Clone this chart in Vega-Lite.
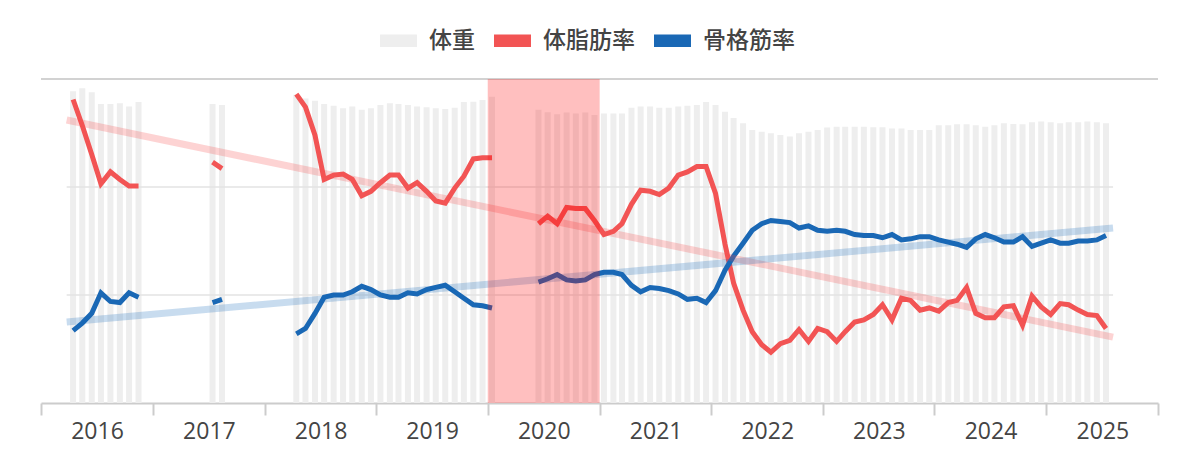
{
  "$schema": "https://vega.github.io/schema/vega-lite/v6.json",
  "width": 1117,
  "height": 324,
  "autosize": {"type": "none"},
  "padding": {"left": 41, "top": 79, "right": 42, "bottom": 68},
  "background": "white",
  "config": {"view": {"stroke": null}, "font": "Open Sans"},
  "datasets": {
    "monthly": [
      {"date": "2016-04-15", "seg": 1, "weight": 77.0, "fat": 38.1, "muscle": 16.7},
      {"date": "2016-05-15", "seg": 1, "weight": 77.7, "fat": 35.7, "muscle": 17.4},
      {"date": "2016-06-15", "seg": 1, "weight": 76.7, "fat": 33.0, "muscle": 18.3},
      {"date": "2016-07-15", "seg": 1, "weight": 73.8, "fat": 30.3, "muscle": 20.2},
      {"date": "2016-08-15", "seg": 1, "weight": 73.8, "fat": 31.4, "muscle": 19.4},
      {"date": "2016-09-15", "seg": 1, "weight": 74.0, "fat": 30.7, "muscle": 19.3},
      {"date": "2016-10-15", "seg": 1, "weight": 73.2, "fat": 30.1, "muscle": 20.2},
      {"date": "2016-11-15", "seg": 1, "weight": 74.3, "fat": 30.1, "muscle": 19.8},
      {"date": "2017-07-15", "seg": 2, "weight": 73.8, "fat": 32.3, "muscle": 19.3},
      {"date": "2017-08-15", "seg": 2, "weight": 73.6, "fat": 31.7, "muscle": 19.6},
      {"date": "2018-04-15", "seg": 3, "weight": 76.1, "fat": 38.6, "muscle": 16.4},
      {"date": "2018-05-15", "seg": 3, "weight": 75.2, "fat": 37.4, "muscle": 16.9},
      {"date": "2018-06-15", "seg": 3, "weight": 74.6, "fat": 34.8, "muscle": 18.3},
      {"date": "2018-07-15", "seg": 3, "weight": 73.8, "fat": 30.7, "muscle": 19.8},
      {"date": "2018-08-15", "seg": 3, "weight": 73.4, "fat": 31.1, "muscle": 20.0},
      {"date": "2018-09-15", "seg": 3, "weight": 72.8, "fat": 31.2, "muscle": 20.0},
      {"date": "2018-10-15", "seg": 3, "weight": 73.2, "fat": 30.7, "muscle": 20.3},
      {"date": "2018-11-15", "seg": 3, "weight": 72.4, "fat": 29.2, "muscle": 20.8},
      {"date": "2018-12-15", "seg": 3, "weight": 72.8, "fat": 29.6, "muscle": 20.5},
      {"date": "2019-01-15", "seg": 3, "weight": 73.6, "fat": 30.4, "muscle": 20.0},
      {"date": "2019-02-15", "seg": 3, "weight": 74.0, "fat": 31.1, "muscle": 19.8},
      {"date": "2019-03-15", "seg": 3, "weight": 73.8, "fat": 31.1, "muscle": 19.8},
      {"date": "2019-04-15", "seg": 3, "weight": 73.6, "fat": 29.9, "muscle": 20.2},
      {"date": "2019-05-15", "seg": 3, "weight": 73.2, "fat": 30.4, "muscle": 20.1},
      {"date": "2019-06-15", "seg": 3, "weight": 73.0, "fat": 29.6, "muscle": 20.5},
      {"date": "2019-07-15", "seg": 3, "weight": 72.8, "fat": 28.7, "muscle": 20.7},
      {"date": "2019-08-15", "seg": 3, "weight": 72.6, "fat": 28.5, "muscle": 20.9},
      {"date": "2019-09-15", "seg": 3, "weight": 72.9, "fat": 29.9, "muscle": 20.3},
      {"date": "2019-10-15", "seg": 3, "weight": 74.3, "fat": 31.0, "muscle": 19.7},
      {"date": "2019-11-15", "seg": 3, "weight": 74.4, "fat": 32.6, "muscle": 19.1},
      {"date": "2019-12-15", "seg": 3, "weight": 74.8, "fat": 32.7, "muscle": 19.0},
      {"date": "2020-01-15", "seg": 3, "weight": 75.6, "fat": 32.7, "muscle": 18.8},
      {"date": "2020-06-15", "seg": 4, "weight": 72.4, "fat": 26.6, "muscle": 21.2},
      {"date": "2020-07-15", "seg": 4, "weight": 71.8, "fat": 27.3, "muscle": 21.5},
      {"date": "2020-08-15", "seg": 4, "weight": 71.3, "fat": 26.6, "muscle": 21.9},
      {"date": "2020-09-15", "seg": 4, "weight": 71.7, "fat": 28.1, "muscle": 21.4},
      {"date": "2020-10-15", "seg": 4, "weight": 71.5, "fat": 28.0, "muscle": 21.3},
      {"date": "2020-11-15", "seg": 4, "weight": 71.7, "fat": 28.0, "muscle": 21.4},
      {"date": "2020-12-15", "seg": 4, "weight": 71.1, "fat": 26.9, "muscle": 21.9},
      {"date": "2021-01-15", "seg": 4, "weight": 71.5, "fat": 25.6, "muscle": 22.1},
      {"date": "2021-02-15", "seg": 4, "weight": 71.5, "fat": 25.9, "muscle": 22.1},
      {"date": "2021-03-15", "seg": 4, "weight": 71.5, "fat": 26.6, "muscle": 21.9},
      {"date": "2021-04-15", "seg": 4, "weight": 72.9, "fat": 28.4, "muscle": 20.9},
      {"date": "2021-05-15", "seg": 4, "weight": 73.2, "fat": 29.7, "muscle": 20.3},
      {"date": "2021-06-15", "seg": 4, "weight": 73.2, "fat": 29.6, "muscle": 20.7},
      {"date": "2021-07-15", "seg": 4, "weight": 72.9, "fat": 29.3, "muscle": 20.6},
      {"date": "2021-08-15", "seg": 4, "weight": 72.9, "fat": 29.9, "muscle": 20.4},
      {"date": "2021-09-15", "seg": 4, "weight": 73.2, "fat": 31.1, "muscle": 20.1},
      {"date": "2021-10-15", "seg": 4, "weight": 73.4, "fat": 31.4, "muscle": 19.6},
      {"date": "2021-11-15", "seg": 4, "weight": 73.6, "fat": 31.9, "muscle": 19.7},
      {"date": "2021-12-15", "seg": 4, "weight": 74.3, "fat": 31.9, "muscle": 19.3},
      {"date": "2022-01-15", "seg": 4, "weight": 73.6, "fat": 29.4, "muscle": 20.4},
      {"date": "2022-02-15", "seg": 4, "weight": 71.9, "fat": 24.7, "muscle": 22.3},
      {"date": "2022-03-15", "seg": 4, "weight": 70.4, "fat": 21.1, "muscle": 23.6},
      {"date": "2022-04-15", "seg": 4, "weight": 69.1, "fat": 18.6, "muscle": 24.8},
      {"date": "2022-05-15", "seg": 4, "weight": 67.4, "fat": 16.6, "muscle": 26.0},
      {"date": "2022-06-15", "seg": 4, "weight": 67.0, "fat": 15.4, "muscle": 26.6},
      {"date": "2022-07-15", "seg": 4, "weight": 66.6, "fat": 14.7, "muscle": 26.9},
      {"date": "2022-08-15", "seg": 4, "weight": 66.2, "fat": 15.5, "muscle": 26.8},
      {"date": "2022-09-15", "seg": 4, "weight": 65.8, "fat": 15.8, "muscle": 26.7},
      {"date": "2022-10-15", "seg": 4, "weight": 66.6, "fat": 16.8, "muscle": 26.2},
      {"date": "2022-11-15", "seg": 4, "weight": 67.0, "fat": 15.7, "muscle": 26.4},
      {"date": "2022-12-15", "seg": 4, "weight": 67.4, "fat": 16.9, "muscle": 26.0},
      {"date": "2023-01-15", "seg": 4, "weight": 68.0, "fat": 16.6, "muscle": 25.9},
      {"date": "2023-02-15", "seg": 4, "weight": 68.2, "fat": 15.7, "muscle": 26.0},
      {"date": "2023-03-15", "seg": 4, "weight": 68.2, "fat": 16.6, "muscle": 25.9},
      {"date": "2023-04-15", "seg": 4, "weight": 68.2, "fat": 17.5, "muscle": 25.6},
      {"date": "2023-05-15", "seg": 4, "weight": 68.2, "fat": 17.7, "muscle": 25.5},
      {"date": "2023-06-15", "seg": 4, "weight": 68.1, "fat": 18.2, "muscle": 25.5},
      {"date": "2023-07-15", "seg": 4, "weight": 68.1, "fat": 19.1, "muscle": 25.3},
      {"date": "2023-08-15", "seg": 4, "weight": 67.8, "fat": 17.7, "muscle": 25.6},
      {"date": "2023-09-15", "seg": 4, "weight": 67.8, "fat": 19.7, "muscle": 25.1},
      {"date": "2023-10-15", "seg": 4, "weight": 67.4, "fat": 19.5, "muscle": 25.2},
      {"date": "2023-11-15", "seg": 4, "weight": 67.4, "fat": 18.6, "muscle": 25.4},
      {"date": "2023-12-15", "seg": 4, "weight": 67.4, "fat": 18.8, "muscle": 25.4},
      {"date": "2024-01-15", "seg": 4, "weight": 68.6, "fat": 18.5, "muscle": 25.1},
      {"date": "2024-02-15", "seg": 4, "weight": 68.6, "fat": 19.3, "muscle": 24.9},
      {"date": "2024-03-15", "seg": 4, "weight": 68.8, "fat": 19.5, "muscle": 24.7},
      {"date": "2024-04-15", "seg": 4, "weight": 68.8, "fat": 20.7, "muscle": 24.4},
      {"date": "2024-05-15", "seg": 4, "weight": 68.6, "fat": 18.3, "muscle": 25.2},
      {"date": "2024-06-15", "seg": 4, "weight": 68.2, "fat": 17.9, "muscle": 25.6},
      {"date": "2024-07-15", "seg": 4, "weight": 68.6, "fat": 17.9, "muscle": 25.3},
      {"date": "2024-08-15", "seg": 4, "weight": 69.1, "fat": 18.9, "muscle": 24.9},
      {"date": "2024-09-15", "seg": 4, "weight": 68.9, "fat": 19.0, "muscle": 24.9},
      {"date": "2024-10-15", "seg": 4, "weight": 68.8, "fat": 17.2, "muscle": 25.4},
      {"date": "2024-11-15", "seg": 4, "weight": 69.3, "fat": 19.9, "muscle": 24.5},
      {"date": "2024-12-15", "seg": 4, "weight": 69.5, "fat": 18.9, "muscle": 24.8},
      {"date": "2025-01-15", "seg": 4, "weight": 69.3, "fat": 18.2, "muscle": 25.1},
      {"date": "2025-02-15", "seg": 4, "weight": 69.1, "fat": 19.2, "muscle": 24.8},
      {"date": "2025-03-15", "seg": 4, "weight": 69.3, "fat": 19.1, "muscle": 24.8},
      {"date": "2025-04-15", "seg": 4, "weight": 69.3, "fat": 18.6, "muscle": 25.0},
      {"date": "2025-05-15", "seg": 4, "weight": 69.5, "fat": 18.2, "muscle": 25.0},
      {"date": "2025-06-15", "seg": 4, "weight": 69.3, "fat": 18.1, "muscle": 25.1},
      {"date": "2025-07-15", "seg": 4, "weight": 69.1, "fat": 16.9, "muscle": 25.5}
    ],
    "trend": [
      {"series": "体脂肪率", "date": "2016-03-25", "value": 36.2},
      {"series": "体脂肪率", "date": "2025-08-07", "value": 16.1},
      {"series": "骨格筋率", "date": "2016-03-25", "value": 17.5},
      {"series": "骨格筋率", "date": "2025-08-07", "value": 26.2}
    ],
    "guides": [
      {"value": 20, "from": "2016-03-25", "to": "2025-08-07"},
      {"value": 30, "from": "2016-03-25", "to": "2025-08-07"}
    ],
    "period": [
      {"label": "2020", "start": "2020-01-01", "end": "2021-01-01"}
    ]
  },
  "layer": [
    {
      "data": {"name": "monthly"},
      "mark": {"type": "bar", "width": 6},
      "encoding": {
        "x": {
          "field": "date",
          "type": "temporal",
          "title": null,
          "scale": {
            "type": "utc",
            "padding": 0,
            "domain": [
              {"year": 2016, "month": 1, "date": 1, "utc": true},
              {"year": 2026, "month": 1, "date": 1, "utc": true}
            ]
          },
          "axis": {
            "values": [
              {"year": 2016, "utc": true}, {"year": 2017, "utc": true},
              {"year": 2018, "utc": true}, {"year": 2019, "utc": true},
              {"year": 2020, "utc": true}, {"year": 2021, "utc": true},
              {"year": 2022, "utc": true}, {"year": 2023, "utc": true},
              {"year": 2024, "utc": true}, {"year": 2025, "utc": true},
              {"year": 2026, "utc": true}
            ],
            "labelExpr": "utcyear(datum.value) > 2025 ? '' : utcFormat(datum.value, '%Y')",
            "labelOffset": 56,
            "labelFont": "Open Sans",
            "labelFontSize": 23,
            "labelColor": "#444444",
            "labelPadding": 5,
            "labelOverlap": false,
            "labelFlush": false,
            "labelBound": false,
            "tickSize": 12,
            "tickWidth": 2,
            "tickColor": "#cccccc",
            "domainColor": "#cccccc",
            "domainWidth": 2,
            "grid": false,
            "title": null
          }
        },
        "y": {
          "field": "weight",
          "type": "quantitative",
          "scale": {"domain": [0, 80], "nice": false},
          "axis": null
        },
        "color": {
          "datum": "体重",
          "scale": {
            "domain": ["体重", "体脂肪率", "骨格筋率"],
            "range": ["#eeeeee", "#f25454", "#1a68b5"]
          },
          "legend": {
            "title": null,
            "orient": "none",
            "legendX": 339,
            "legendY": -51,
            "direction": "horizontal",
            "symbolType": "M-1.5,-0.5H1.5V0.5H-1.5Z",
            "symbolSize": 608,
            "symbolOffset": 6,
            "symbolStrokeWidth": 0,
            "labelOffset": 18,
            "columnPadding": 19,
            "labelFont": "Noto Sans CJK JP",
            "labelFontSize": 23,
            "labelFontWeight": 500,
            "labelColor": "#444444",
            "encode": {
              "symbols": {
                "update": {
                  "fill": {"scale": "color", "field": "value"},
                  "stroke": {"value": "transparent"},
                  "opacity": {"value": 1}
                }
              }
            }
          }
        }
      }
    },
    {
      "layer": [
        {
          "data": {"name": "guides"},
          "mark": {"type": "rule", "color": "#e3e3e3", "strokeWidth": 1.5},
          "encoding": {
            "x": {"field": "from", "type": "temporal", "title": null, "scale": {"type": "utc"}},
            "x2": {"field": "to"},
            "y": {"field": "value", "type": "quantitative", "scale": {"domain": [10, 40], "nice": false}, "axis": null}
          }
        },
        {
          "data": {"name": "period"},
          "mark": {"type": "rule", "color": "#d2d2d2", "strokeWidth": 2},
          "encoding": {
            "y": {"datum": 40, "type": "quantitative", "scale": {"domain": [10, 40], "nice": false}, "axis": null}
          }
        },
        {
          "data": {"name": "monthly"},
          "mark": {"type": "line", "strokeWidth": 5, "color": "#f64f4f"},
          "encoding": {
            "x": {"field": "date", "type": "temporal", "title": null, "scale": {"type": "utc"}},
            "y": {"field": "fat", "type": "quantitative", "scale": {"domain": [10, 40], "nice": false}, "axis": null},
            "detail": {"field": "seg", "type": "nominal"},
            "color": {"datum": "体脂肪率"}
          }
        },
        {
          "data": {"name": "monthly"},
          "mark": {"type": "line", "strokeWidth": 5},
          "encoding": {
            "x": {"field": "date", "type": "temporal", "title": null, "scale": {"type": "utc"}},
            "y": {"field": "muscle", "type": "quantitative", "scale": {"domain": [10, 40], "nice": false}, "axis": null},
            "detail": {"field": "seg", "type": "nominal"},
            "color": {"datum": "骨格筋率"}
          }
        },
        {
          "data": {"name": "trend"},
          "transform": [{"filter": "datum.series === '体脂肪率'"}],
          "mark": {"type": "line", "strokeWidth": 7, "color": "#f64f4f", "opacity": 0.25},
          "encoding": {
            "x": {"field": "date", "type": "temporal", "title": null, "scale": {"type": "utc"}},
            "y": {"field": "value", "type": "quantitative", "scale": {"domain": [10, 40], "nice": false}, "axis": null}
          }
        },
        {
          "data": {"name": "trend"},
          "transform": [{"filter": "datum.series === '骨格筋率'"}],
          "mark": {"type": "line", "strokeWidth": 7, "color": "#1069b8", "opacity": 0.23},
          "encoding": {
            "x": {"field": "date", "type": "temporal", "title": null, "scale": {"type": "utc"}},
            "y": {"field": "value", "type": "quantitative", "scale": {"domain": [10, 40], "nice": false}, "axis": null}
          }
        },
        {
          "data": {"name": "period"},
          "mark": {"type": "rect", "color": "#ff0000", "opacity": 0.25},
          "encoding": {
            "x": {"field": "start", "type": "temporal", "title": null, "scale": {"type": "utc"}},
            "x2": {"field": "end"}
          }
        }
      ]
    }
  ],
  "resolve": {"scale": {"y": "independent"}}
}
